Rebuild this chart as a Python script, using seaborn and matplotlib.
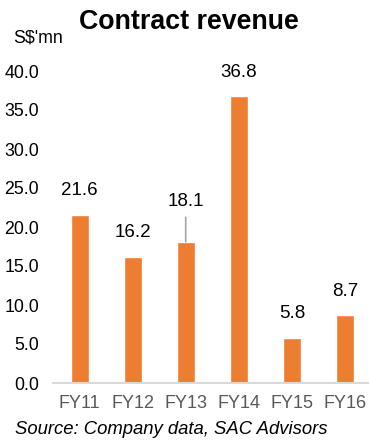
import matplotlib
matplotlib.use("Agg")
import matplotlib.pyplot as plt
import seaborn as sns
import pandas as pd

categories = ["FY11", "FY12", "FY13", "FY14", "FY15", "FY16"]
values = [21.6, 16.2, 18.1, 36.8, 5.8, 8.7]
yticks = [0, 5, 10, 15, 20, 25, 30, 35, 40]

sns.set_theme(style="white")
plt.rcParams['font.family'] = ['Liberation Sans', 'DejaVu Sans']

df = pd.DataFrame({"cat": categories, "val": values})

fig = plt.figure(figsize=(3.69, 4.42), dpi=100)
ax = fig.add_axes([53/369, 59/442, 318.5/369, 312/442])
sns.barplot(data=df, x="cat", y="val", color="#ED7D31", saturation=1, width=0.34, ax=ax)

ax.set_ylim(0, 40)
ax.set_xlim(-0.5, len(categories) - 0.5)
ax.set_yticks(yticks)
ax.set_yticklabels([f"{t:.1f}" for t in yticks], fontsize=12.8, color="black")
ax.tick_params(axis="y", length=0, pad=10)
ax.tick_params(axis="x", length=0, pad=9, labelsize=13, labelcolor="#595959")
ax.set_xlabel("")
ax.set_ylabel("")
for s in ["top", "right", "left"]:
    ax.spines[s].set_visible(False)
ax.spines["bottom"].set_color("#D9D9D9")
ax.spines["bottom"].set_linewidth(1.5)

for i, v in enumerate(values):
    if categories[i] == "FY13":
        ax.annotate(f"{v:.1f}", xy=(i, v), xytext=(0, 23), textcoords="offset points",
                    ha="center", va="bottom", fontsize=13.5, color="black",
                    arrowprops=dict(arrowstyle="-", color="#A6A6A6", lw=1.2,
                                    shrinkA=3, shrinkB=0))
    else:
        ax.annotate(f"{v:.1f}", xy=(i, v), xytext=(0, 11), textcoords="offset points",
                    ha="center", va="bottom", fontsize=13.5, color="black")

fig.text(189/369, 1 - 22/442, "Contract revenue", ha="center", va="center",
         fontsize=19.3, fontweight="bold", color="black")
fig.text(13/369, 1 - 38/442, "S$'mn", ha="left", va="center", fontsize=12.8, color="black")
fig.text(15/369, 1 - 429/442, "Source: Company data, SAC Advisors", ha="left", va="center",
         fontsize=13.3, fontstyle="italic", color="black")

fig.savefig("out.png", dpi=100)
